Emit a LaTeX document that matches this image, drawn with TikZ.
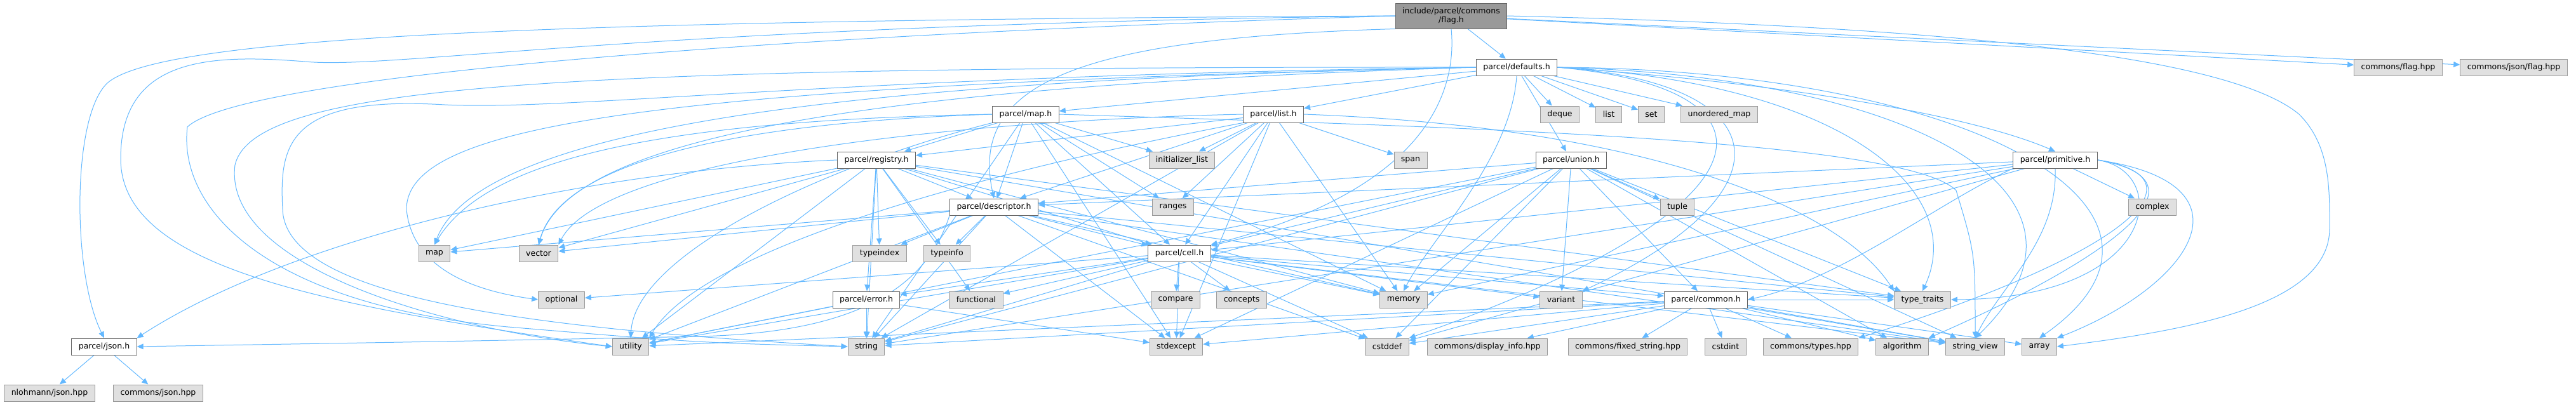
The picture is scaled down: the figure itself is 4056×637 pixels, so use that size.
\documentclass[tikz,border=0pt]{standalone}
\usepackage{fontspec}
\setmainfont{DejaVu Sans}
\usetikzlibrary{arrows.meta,backgrounds}
\definecolor{edgeblue}{HTML}{63B8FF}
\definecolor{sysfill}{HTML}{E0E0E0}
\definecolor{sysline}{HTML}{999999}
\definecolor{hdrline}{HTML}{666666}
\definecolor{rootfill}{HTML}{999999}

\begin{document}
\begin{tikzpicture}[x=0.75pt,y=-0.75pt,
    hdr/.style={draw=hdrline,fill=white,line width=0.75pt,minimum height=19.5pt,
      inner xsep=8.2pt,inner ysep=0pt,font=\fontsize{9.4}{11}\selectfont},
    sys/.style={hdr,draw=sysline,fill=sysfill},
    root/.style={hdr,fill=rootfill,align=center,minimum height=30pt},
    dep/.style={draw=edgeblue,line width=0.75pt,-{Triangle[length=7.5pt,width=6.5pt]}}]
  \useasboundingbox (0,0) rectangle (4056,637);

  \node[root] (flag) at (2285,25) {include/parcel/commons\\/flag.h};
  \node[hdr] (defaults) at (2388,106) {parcel/defaults.h};
  \node[sys] (cflag) at (3776,106) {commons/flag.hpp};
  \node[sys] (cjflag) at (3958,106) {commons/json/flag.hpp};
  \node[hdr] (maph) at (1615,180) {parcel/map.h};
  \node[hdr] (listh) at (2005,180) {parcel/list.h};
  \node[sys] (deque) at (2456,180) {deque};
  \node[sys] (list) at (2533,180) {list};
  \node[sys] (set) at (2600,180) {set};
  \node[sys] (umap) at (2707,180) {unordered\_map};
  \node[hdr] (registry) at (1380,252) {parcel/registry.h};
  \node[sys] (initlist) at (1861,252) {initializer\_list};
  \node[sys] (span) at (2221,252) {span};
  \node[hdr] (union) at (2474,252) {parcel/union.h};
  \node[hdr] (primitive) at (3236,252) {parcel/primitive.h};
  \node[hdr] (descriptor) at (1565,326) {parcel/descriptor.h};
  \node[sys] (ranges) at (1847,326) {ranges};
  \node[sys] (tuple) at (2641,326) {tuple};
  \node[sys] (complex) at (3389,326) {complex};
  \node[sys] (map) at (684,399) {map};
  \node[sys] (vector) at (848,399) {vector};
  \node[sys] (typeindex) at (1385,399) {typeindex};
  \node[sys] (typeinfo) at (1491,399) {typeinfo};
  \node[hdr] (cell) at (1857,399) {parcel/cell.h};
  \node[sys] (optional) at (884,472) {optional};
  \node[hdr] (error) at (1364,472) {parcel/error.h};
  \node[sys] (functional) at (1537,472) {functional};
  \node[sys] (compare) at (1851,472) {compare};
  \node[sys] (concepts) at (1955,472) {concepts};
  \node[sys] (memory) at (2210,472) {memory};
  \node[sys] (variant) at (2458,472) {variant};
  \node[hdr] (common) at (2686,472) {parcel/common.h};
  \node[sys] (typetraits) at (3027,472) {type\_traits};
  \node[hdr] (json) at (164,546) {parcel/json.h};
  \node[sys] (utility) at (993,546) {utility};
  \node[sys] (string) at (1364,546) {string};
  \node[sys] (stdexcept) at (1852,546) {stdexcept};
  \node[sys] (cstddef) at (2184,546) {cstddef};
  \node[sys] (dispinfo) at (2342,546) {commons/display\_info.hpp};
  \node[sys] (fixstr) at (2563,546) {commons/fixed\_string.hpp};
  \node[sys] (cstdint) at (2717,546) {cstdint};
  \node[sys] (ctypes) at (2851,546) {commons/types.hpp};
  \node[sys] (algorithm) at (2995,546) {algorithm};
  \node[sys] (strview) at (3110,546) {string\_view};
  \node[sys] (array) at (3211,546) {array};
  \node[sys] (nlohmann) at (78,619) {nlohmann/json.hpp};
  \node[sys] (cjson) at (249,619) {commons/json.hpp};

  \begin{pgfonlayer}{background}
    % include/parcel/commons/flag.h
    \draw[dep] (flag) -- (defaults);
    \draw[dep] (flag) -- (cflag);
    \draw[dep] (flag) -- (cjflag);
    \draw[dep] (flag.east) .. controls (3000,40) and (3500,80) .. (3620,180)
      .. controls (3670,230) and (3668,300) .. (3668,360)
      .. controls (3668,480) and (3450,520) .. (array.east);
    \draw[dep] (flag.south west) .. controls (1700,60) and (1525,130) .. (descriptor.north);
    \draw[dep] (flag.south) .. controls (2295,150) and (2240,300) .. (cell.north east);
    \draw[dep] (flag.west) .. controls (900,32) and (260,55) .. (170,130)
      .. controls (113,180) and (113,430) .. (json.north);
    \draw[dep] (flag.west) .. controls (1000,40) and (620,110) .. (480,97)
      .. controls (330,85) and (190,90) .. (190,250)
      .. controls (190,420) and (500,480) .. (utility.west);
    \draw[dep] (flag.west) .. controls (1200,55) and (380,120) .. (295,200)
      .. controls (280,330) and (420,480) .. (800,515)
      .. controls (1100,540) .. (string.west);

    % parcel/defaults.h
    \draw[dep] (defaults) -- (maph);
    \draw[dep] (defaults) -- (listh);
    \draw[dep] (defaults) -- (deque);
    \draw[dep] (defaults) -- (list);
    \draw[dep] (defaults) -- (set);
    \draw[dep] (defaults) -- (umap);
    \draw[dep] (defaults) -- (union);
    \draw[dep] (defaults.east) .. controls (2800,130) and (3100,180) .. (primitive.north);
    \draw[dep] (defaults.east) .. controls (2900,130) and (3100,300) .. (typetraits.north);
    \draw[dep] (defaults.east) .. controls (3000,120) and (3350,300) .. (strview.north);
    \draw[dep] (defaults.east) .. controls (3100,110) and (3500,330) .. (array.north);
    \draw[dep] (defaults.east) .. controls (2800,130) and (2830,300) .. (variant.north east);
    \draw[dep] (defaults.east) .. controls (2830,140) and (2800,330) .. (cstddef.north east);
    \draw[dep] (defaults.south) .. controls (2380,250) and (2250,380) .. (memory.north);
    \draw[dep] (defaults.west) .. controls (1400,125) and (760,190) .. (map.north);
    \draw[dep] (defaults.west) .. controls (1400,135) and (900,210) .. (vector.north);
    \draw[dep] (defaults.west) .. controls (1000,135) and (640,200) .. (640,330)
      .. controls (650,430) and (760,460) .. (optional.west);
    \draw[dep] (defaults.west) .. controls (900,105) and (400,130) .. (370,260)
      .. controls (350,420) and (700,520) .. (utility.west);
    \draw[dep] (defaults.west) .. controls (1300,120) and (900,175) .. (700,165)
      .. controls (450,150) and (440,230) .. (445,330)
      .. controls (450,480) and (900,520) .. (string.west);

    % parcel/map.h
    \draw[dep] (maph) -- (registry);
    \draw[dep] (maph) -- (initlist);
    \draw[dep] (maph) -- (descriptor);
    \draw[dep] (maph) -- (cell);
    \draw[dep] (maph) -- (memory);
    \draw[dep] (maph) -- (stdexcept);
    \draw[dep] (maph) -- (string);
    \draw[dep] (maph) -- (ranges);
    \draw[dep] (maph.west) .. controls (1000,190) and (760,260) .. (map.north);
    \draw[dep] (maph.west) .. controls (1100,195) and (880,270) .. (vector.north);
    \draw[dep] (maph.south west) .. controls (1300,260) and (1000,400) .. (utility.north);
    \draw[dep] (maph.east) .. controls (2300,200) and (3000,220) .. (3080,300)
      .. controls (3110,400) .. (strview.north);

    % parcel/list.h
    \draw[dep] (listh) -- (registry);
    \draw[dep] (listh) -- (initlist);
    \draw[dep] (listh) -- (span);
    \draw[dep] (listh) -- (descriptor);
    \draw[dep] (listh) -- (cell);
    \draw[dep] (listh) -- (ranges);
    \draw[dep] (listh) -- (stdexcept);
    \draw[dep] (listh) -- (memory);
    \draw[dep] (listh) -- (string);
    \draw[dep] (listh.west) .. controls (1500,190) and (950,250) .. (vector.north east);
    \draw[dep] (listh.south west) .. controls (1500,280) and (1100,400) .. (utility.north east);
    \draw[dep] (listh.east) .. controls (2600,200) and (2900,330) .. (typetraits.north west);

    % parcel/registry.h
    \draw[dep] (registry) -- (descriptor);
    \draw[dep] (registry) -- (cell);
    \draw[dep] (registry) -- (typeindex);
    \draw[dep] (registry) -- (typeinfo);
    \draw[dep] (registry) -- (functional);
    \draw[dep] (registry) -- (error);
    \draw[dep] (registry) -- (map);
    \draw[dep] (registry) -- (vector);
    \draw[dep] (registry) -- (memory);
    \draw[dep] (registry) -- (string);
    \draw[dep] (registry) -- (utility);
    \draw[dep] (registry) -- (strview);
    \draw[dep] (registry) -- (typetraits);
    \draw[dep] (registry.west) .. controls (900,270) and (450,380) .. (json.north east);

    % parcel/descriptor.h
    \draw[dep] (descriptor) -- (cell);
    \draw[dep] (descriptor) -- (typeindex);
    \draw[dep] (descriptor) -- (typeinfo);
    \draw[dep] (descriptor) -- (map);
    \draw[dep] (descriptor) -- (vector);
    \draw[dep] (descriptor) -- (memory);
    \draw[dep] (descriptor) -- (string);
    \draw[dep] (descriptor) -- (utility);
    \draw[dep] (descriptor) -- (stdexcept);
    \draw[dep] (descriptor) -- (cstddef);
    \draw[dep] (descriptor) -- (strview);
    \draw[dep] (descriptor) -- (typetraits);
    \draw[dep] (descriptor.south west) .. controls (1450,480) and (1300,525) .. (1100,530)
      .. controls (700,538) .. (json.east);

    % parcel/union.h
    \draw[dep] (union) -- (descriptor);
    \draw[dep] (union) -- (cell);
    \draw[dep] (union) -- (common);
    \draw[dep] (union) -- (tuple);
    \draw[dep] (union) -- (variant);
    \draw[dep] (union) -- (memory);
    \draw[dep] (union) -- (typetraits);
    \draw[dep] (union) -- (string);
    \draw[dep] (union) -- (utility);
    \draw[dep] (union) -- (cstddef);
    \draw[dep] (union) -- (algorithm);
    \draw[dep] (union) -- (strview);
    \draw[dep] (union) -- (stdexcept);

    % parcel/primitive.h
    \draw[dep] (primitive) -- (descriptor);
    \draw[dep] (primitive) -- (cell);
    \draw[dep] (primitive) -- (memory);
    \draw[dep] (primitive) -- (cstddef);
    \draw[dep] (primitive) -- (string);
    \draw[dep] (primitive) -- (complex);
    \draw[dep] (primitive.south west) .. controls (3050,320) and (2900,440) .. (common.east);
    \draw[dep] (primitive.east) .. controls (3420,270) and (3400,470) .. (typetraits.east);
    \draw[dep] (primitive.east) .. controls (3480,280) and (3350,400) .. (ctypes.north east);
    \draw[dep] (primitive.east) .. controls (3520,290) and (3250,440) .. (algorithm.north east);
    \draw[dep] (primitive.east) .. controls (3560,290) and (3450,450) .. (array.north east);
    \draw[dep] (primitive.south) .. controls (3240,380) and (3150,450) .. (strview.north);

    % parcel/cell.h
    \draw[dep] (cell) -- (error);
    \draw[dep] (cell) -- (functional);
    \draw[dep] (cell) -- (compare);
    \draw[dep] (cell) -- (concepts);
    \draw[dep] (cell) -- (optional);
    \draw[dep] (cell) -- (memory);
    \draw[dep] (cell) -- (variant);
    \draw[dep] (cell) -- (common);
    \draw[dep] (cell) -- (typetraits);
    \draw[dep] (cell) -- (string);
    \draw[dep] (cell) -- (utility);
    \draw[dep] (cell) -- (stdexcept);
    \draw[dep] (cell) -- (cstddef);
    \draw[dep] (cell) -- (strview);

    % parcel/error.h
    \draw[dep] (error) -- (string);
    \draw[dep] (error) -- (utility);
    \draw[dep] (error) -- (stdexcept);

    % parcel/common.h
    \draw[dep] (common) -- (dispinfo);
    \draw[dep] (common) -- (fixstr);
    \draw[dep] (common) -- (cstdint);
    \draw[dep] (common) -- (ctypes);
    \draw[dep] (common) -- (algorithm);
    \draw[dep] (common) -- (strview);
    \draw[dep] (common) -- (array);
    \draw[dep] (common) -- (string);
    \draw[dep] (common) -- (utility);
    \draw[dep] (common) -- (stdexcept);
    \draw[dep] (common) -- (cstddef);
    \draw[dep] (common) -- (typetraits);

    % parcel/json.h
    \draw[dep] (json) -- (nlohmann);
    \draw[dep] (json) -- (cjson);
  \end{pgfonlayer}
\end{tikzpicture}
\end{document}
